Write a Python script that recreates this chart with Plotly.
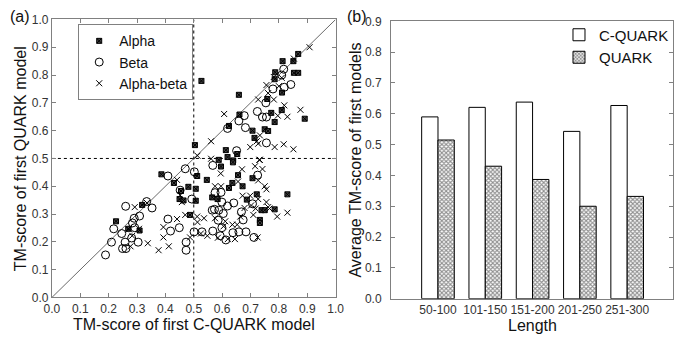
import plotly.graph_objects as go

# ---------------- data: panel (a) ----------------
alpha_x = [0.527, 0.659, 0.813, 0.787, 0.851, 0.868, 0.853, 0.868, 0.811, 0.759, 0.773, 0.810,
           0.891, 0.785, 0.624, 0.661, 0.707, 0.714, 0.750, 0.762, 0.504, 0.613, 0.619, 0.653,
           0.639, 0.588, 0.785,
           0.226, 0.269, 0.318, 0.309, 0.386, 0.430, 0.450, 0.455, 0.464, 0.481, 0.487, 0.512,
           0.507, 0.507, 0.546, 0.565, 0.584, 0.624, 0.636, 0.656, 0.672, 0.687, 0.707, 0.722,
           0.733, 0.739, 0.750, 0.785, 0.830, 0.733, 0.596, 0.638]
alpha_y = [0.779, 0.729, 0.850, 0.810, 0.850, 0.876, 0.808, 0.808, 0.737, 0.714, 0.664, 0.674,
           0.643, 0.631, 0.617, 0.658, 0.600, 0.574, 0.605, 0.599, 0.548, 0.530, 0.505, 0.516,
           0.493, 0.495, 0.785,
           0.274, 0.247, 0.333, 0.241, 0.443, 0.412, 0.354, 0.383, 0.349, 0.398, 0.297, 0.437,
           0.391, 0.348, 0.423, 0.360, 0.354, 0.394, 0.412, 0.440, 0.400, 0.352, 0.429, 0.371,
           0.279, 0.314, 0.314, 0.317, 0.371, 0.268, 0.471, 0.486]

beta_x = [0.817, 0.842, 0.819, 0.779, 0.754, 0.724, 0.742, 0.756, 0.678, 0.659, 0.619, 0.682,
          0.756, 0.651, 0.810,
          0.189, 0.210, 0.218, 0.246, 0.258, 0.249, 0.261, 0.260, 0.284, 0.290, 0.292, 0.281,
          0.304, 0.309, 0.334, 0.353, 0.409, 0.418, 0.409, 0.449, 0.452, 0.473, 0.473, 0.470,
          0.493, 0.502, 0.501, 0.529, 0.567, 0.565, 0.573, 0.575, 0.586, 0.588, 0.599, 0.604,
          0.567, 0.599, 0.593, 0.613, 0.619, 0.638, 0.641, 0.659, 0.668, 0.674, 0.684, 0.707,
          0.712, 0.725, 0.596]
beta_y = [0.821, 0.766, 0.756, 0.750, 0.700, 0.669, 0.649, 0.649, 0.654, 0.635, 0.608, 0.611,
          0.556, 0.528, 0.800,
          0.153, 0.199, 0.247, 0.230, 0.199, 0.176, 0.176, 0.328, 0.268, 0.285, 0.251, 0.214,
          0.199, 0.293, 0.345, 0.322, 0.282, 0.239, 0.437, 0.251, 0.386, 0.199, 0.170, 0.463,
          0.354, 0.452, 0.236, 0.236, 0.475, 0.314, 0.317, 0.377, 0.278, 0.314, 0.343, 0.302,
          0.239, 0.251, 0.222, 0.207, 0.329, 0.233, 0.340, 0.236, 0.308, 0.279, 0.236, 0.337,
          0.216, 0.440, 0.378]

ab_x = [0.908, 0.853, 0.782, 0.756, 0.810, 0.762, 0.727, 0.782, 0.819, 0.876, 0.607, 0.796,
        0.561, 0.699, 0.722, 0.733, 0.785, 0.817, 0.851, 0.727, 0.513, 0.561, 0.733, 0.800,
        0.830,
        0.292, 0.272, 0.283, 0.277, 0.307, 0.338, 0.376, 0.393, 0.393, 0.412, 0.441, 0.441,
        0.452, 0.458, 0.470, 0.487, 0.512, 0.513, 0.525, 0.536, 0.548, 0.595, 0.596, 0.605,
        0.611, 0.636, 0.645, 0.656, 0.670, 0.672, 0.679, 0.653, 0.664, 0.699, 0.702, 0.716,
        0.727, 0.750, 0.756, 0.756, 0.742, 0.731, 0.725, 0.718, 0.762, 0.710, 0.727, 0.767,
        0.794, 0.830, 0.575, 0.585, 0.620, 0.335, 0.575]
ab_y = [0.900, 0.859, 0.793, 0.764, 0.790, 0.735, 0.712, 0.712, 0.691, 0.675, 0.660, 0.654,
        0.562, 0.541, 0.562, 0.583, 0.541, 0.551, 0.533, 0.553, 0.510, 0.499, 0.495, 0.760,
        0.650,
        0.325, 0.245, 0.222, 0.184, 0.247, 0.195, 0.170, 0.253, 0.216, 0.184, 0.282, 0.423,
        0.368, 0.343, 0.297, 0.216, 0.291, 0.271, 0.230, 0.285, 0.222, 0.446, 0.400, 0.256,
        0.274, 0.262, 0.210, 0.417, 0.461, 0.366, 0.322, 0.262, 0.291, 0.366, 0.331, 0.472,
        0.421, 0.400, 0.389, 0.343, 0.462, 0.495, 0.216, 0.320, 0.325, 0.297, 0.354, 0.320,
        0.291, 0.305, 0.285, 0.215, 0.210, 0.340, 0.400]

# ---------------- data: panel (b) ----------------
length_bins = ["50-100", "101-150", "151-200", "201-250", "251-300"]
cquark_avg = [0.590, 0.621, 0.638, 0.543, 0.627]
quark_avg = [0.515, 0.430, 0.387, 0.300, 0.332]

FONT = "Liberation Sans, Arial, sans-serif"
TICKC = "#333333"
LINEC = "#808080"
TXT = "#111111"

fig = go.Figure()

# reference lines (panel a)
fig.add_trace(go.Scatter(x=[0, 1], y=[0, 1], mode="lines",
                         line=dict(color="#444444", width=0.8),
                         showlegend=False, hoverinfo="skip", xaxis="x", yaxis="y"))
fig.add_trace(go.Scatter(x=[0.5, 0.5], y=[0, 1], mode="lines",
                         line=dict(color="black", width=1, dash="3px,3px"),
                         showlegend=False, hoverinfo="skip", xaxis="x", yaxis="y"))
fig.add_trace(go.Scatter(x=[0, 1], y=[0.5, 0.5], mode="lines",
                         line=dict(color="black", width=1, dash="3px,3px"),
                         showlegend=False, hoverinfo="skip", xaxis="x", yaxis="y"))

fig.add_trace(go.Scatter(x=alpha_x, y=alpha_y, mode="markers", name="Alpha",
                         marker=dict(symbol="square-x", size=5, color="#444444",
                                     line=dict(color="black", width=1)),
                         xaxis="x", yaxis="y", legend="legend"))
fig.add_trace(go.Scatter(x=beta_x, y=beta_y, mode="markers", name="Beta",
                         marker=dict(symbol="circle-open", size=8, color="black",
                                     line=dict(width=1)),
                         xaxis="x", yaxis="y", legend="legend"))
fig.add_trace(go.Scatter(x=ab_x, y=ab_y, mode="markers", name="Alpha-beta",
                         marker=dict(symbol="x-thin-open", size=6, color="black",
                                     line=dict(width=1, color="black")),
                         xaxis="x", yaxis="y", legend="legend"))

# panel b bars
fig.add_trace(go.Bar(x=length_bins, y=cquark_avg, name="C-QUARK",
                     marker=dict(color="white", line=dict(color="black", width=1)),
                     xaxis="x2", yaxis="y2", legend="legend2"))
fig.add_trace(go.Bar(x=length_bins, y=quark_avg, name="QUARK",
                     marker=dict(color="white", line=dict(color="black", width=1),
                                 pattern=dict(shape="x", size=3, solidity=0.6,
                                              fgcolor="#222222", bgcolor="white")),
                     xaxis="x2", yaxis="y2", legend="legend2"))

axis_common = dict(showline=True, linecolor=LINEC, linewidth=1, mirror="ticks",
                   ticks="inside", ticklen=4, tickcolor=LINEC, showgrid=False,
                   zeroline=False, tickfont=dict(family=FONT, size=12, color=TICKC))

fig.update_layout(
    width=685, height=339,
    margin=dict(l=0, r=0, t=0, b=0),
    paper_bgcolor="white", plot_bgcolor="white",
    font=dict(family=FONT, color="#222222"),
    barmode="group", bargap=0.31, bargroupgap=0.0,
    xaxis=dict(domain=[0.0657, 0.4905], range=[0, 1], dtick=0.1, tickformat=".1f",
               anchor="y", **axis_common),
    yaxis=dict(domain=[0.1062, 0.9617], range=[0, 1], dtick=0.1, tickformat=".1f",
               anchor="x", **axis_common),
    xaxis2=dict(domain=[0.5733, 0.9951], range=[-0.994, 4.963], anchor="y2",
                showline=True, linecolor=LINEC, mirror=True, ticks="", showgrid=False,
                tickfont=dict(family=FONT, size=12, color=TICKC)),
    yaxis2=dict(domain=[0.1024, 0.9558], range=[0, 0.9], dtick=0.1, tickformat=".1f",
                anchor="x2", ticklabelstandoff=6, **axis_common),
    legend=dict(x=72 / 685, y=1 - 18 / 339, xanchor="left", yanchor="top",
                bordercolor=LINEC, borderwidth=1, bgcolor="white",
                font=dict(family=FONT, size=14, color=TXT),
                itemwidth=30, tracegroupgap=0),
    legend2=dict(x=0.997, y=1 - 12 / 339, xanchor="right", yanchor="top",
                 borderwidth=0, bgcolor="rgba(0,0,0,0)",
                 font=dict(family=FONT, size=15, color=TXT),
                 itemwidth=30, tracegroupgap=0),
    annotations=[
        dict(text="(a)", x=0.0, y=1 - 10 / 339, xref="paper", yref="paper",
             xanchor="left", yanchor="middle", showarrow=False,
             font=dict(family=FONT, size=16, color=TXT)),
        dict(text="(b)", x=346 / 685, y=1 - 10 / 339, xref="paper", yref="paper",
             xanchor="left", yanchor="middle", showarrow=False,
             font=dict(family=FONT, size=16, color=TXT)),
        dict(text="TM-score of first C-QUARK model", x=(45 + 336) / 2 / 685,
             y=1 - 331 / 339, xref="paper", yref="paper", xanchor="center",
             yanchor="middle", showarrow=False,
             font=dict(family=FONT, size=16, color=TXT)),
        dict(text="TM-score of first QUARK model", x=13 / 685, y=1 - 158 / 339,
             xref="paper", yref="paper", xanchor="center", yanchor="middle",
             textangle=-90, showarrow=False,
             font=dict(family=FONT, size=16, color=TXT)),
        dict(text="Length", x=538 / 685, y=1 - 332 / 339, xref="paper", yref="paper",
             xanchor="center", yanchor="middle", showarrow=False,
             font=dict(family=FONT, size=16, color=TXT)),
        dict(text="Average TM-score of first models", x=356 / 685, y=1 - 160 / 339,
             xref="paper", yref="paper", xanchor="center", yanchor="middle",
             textangle=-90, showarrow=False,
             font=dict(family=FONT, size=16, color=TXT)),
    ],
)

fig.write_html("out.html")
